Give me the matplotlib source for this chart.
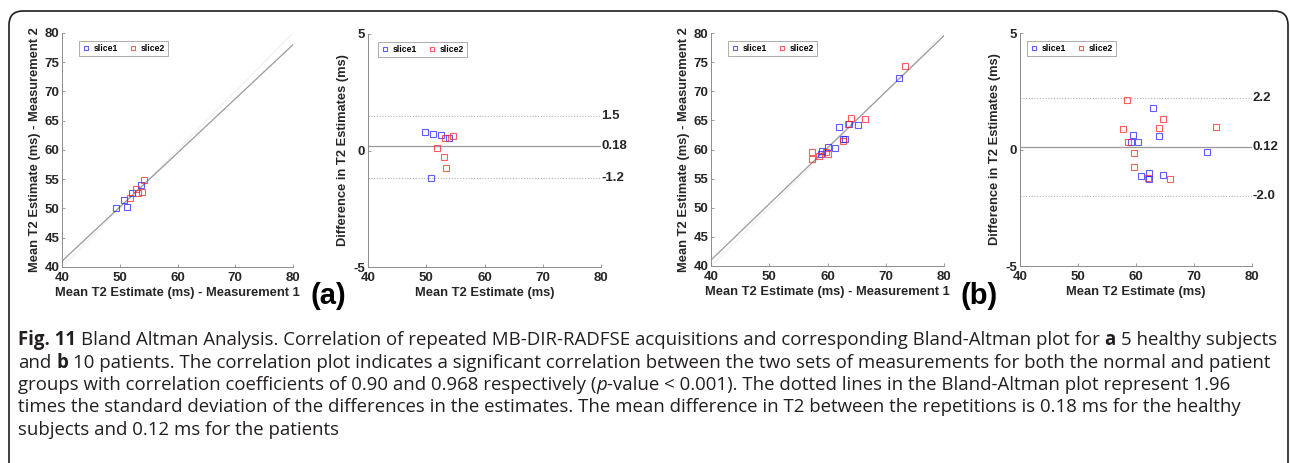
import numpy as np
import matplotlib
matplotlib.use("Agg")
import matplotlib.pyplot as plt
from matplotlib.patches import FancyBboxPatch
from matplotlib.transforms import Affine2D

# values
# (a) 5 healthy subjects - repeat measurements
a_s1_m1 = [49.3, 50.8, 51.3, 52.1, 53.6]
a_s1_m2 = [50.0, 51.4, 50.2, 52.7, 54.1]
a_s2_m1 = [51.7, 52.9, 53.1, 53.8, 54.2]
a_s2_m2 = [51.8, 53.4, 52.7, 52.9, 54.8]
a_fit = (0.925, 4.0)  # slope, intercept

# (a) Bland-Altman
a_s1_mean = [49.7, 51.2, 52.5, 53.9, 50.8]
a_s1_diff = [0.78, 0.70, 0.68, 0.52, -1.17]
a_s2_mean = [51.9, 53.2, 54.6, 53.0, 53.4]
a_s2_diff = [0.11, 0.54, 0.64, -0.29, -0.74]
a_limits = [1.5, 0.18, -1.2]
a_limit_labels = ["1.5", "0.18", "-1.2"]

# (b) 10 patients - repeat measurements
b_s1_m1 = [72.2, 62.0, 63.7, 65.3, 62.7, 63.0, 61.3, 60.1, 59.1, 58.9]
b_s1_m2 = [72.3, 63.8, 64.4, 64.2, 61.8, 61.8, 60.2, 60.4, 59.8, 59.2]
b_s2_m1 = [73.3, 64.1, 63.5, 66.5, 62.6, 57.4, 57.4, 58.5, 59.7, 60.1]
b_s2_m2 = [74.4, 65.4, 64.4, 65.2, 61.5, 59.5, 58.3, 58.8, 59.6, 59.3]
b_fit = (0.963, 2.5)

# (b) Bland-Altman
b_s1_mean = [62.9, 59.5, 64.0, 59.1, 60.3, 72.3, 60.8, 62.2, 62.3, 64.7]
b_s1_diff = [1.80, 0.64, 0.60, 0.32, 0.34, -0.12, -1.15, -0.99, -1.25, -1.09]
b_s2_mean = [58.4, 64.7, 64.0, 57.8, 73.8, 58.7, 59.6, 59.6, 62.0, 65.8]
b_s2_diff = [2.11, 1.31, 0.92, 0.88, 0.98, 0.32, -0.13, -0.75, -1.22, -1.28]
b_limits = [2.2, 0.12, -2.0]
b_limit_labels = ["2.2", "0.12", "-2.0"]

corr_ticks = [40, 45, 50, 55, 60, 65, 70, 75, 80]
x_ticks = [40, 50, 60, 70, 80]
ba_ticks = [-5, 0, 5]

caption_lines = [
    [("Fig. 11", "b"), (" Bland Altman Analysis. Correlation of repeated MB-DIR-RADFSE acquisitions and corresponding Bland-Altman plot for ", "n"),
     ("a", "b"), (" 5 healthy subjects", "n")],
    [("and ", "n"), ("b", "b"), (" 10 patients. The correlation plot indicates a significant correlation between the two sets of measurements for both the normal and patient", "n")],
    [("groups with correlation coefficients of 0.90 and 0.968 respectively (", "n"), ("p", "i"),
     ("-value < 0.001). The dotted lines in the Bland-Altman plot represent 1.96", "n")],
    [("times the standard deviation of the differences in the estimates. The mean difference in T2 between the repetitions is 0.18 ms for the healthy", "n")],
    [("subjects and 0.12 ms for the patients", "n")],
]

W, H = 1290, 463
plt.rcParams['font.family'] = ['Liberation Sans', 'DejaVu Sans']
plt.rcParams['axes.unicode_minus'] = False

fig = plt.figure(figsize=(W / 100, H / 100), dpi=100)

BLUE = (0.1, 0.1, 1.0)
RED = (1.0, 0.1, 0.1)
AXC = '#8c8c8c'
TXT = '#262626'
TICK_FS = 9.5
LABEL_FS = 9.3


def px_axes(left, top, right, bottom):
    return fig.add_axes([left / W, 1 - bottom / H, (right - left) / W, (bottom - top) / H])


def style(ax, yticks):
    ax.set_xlim(40, 80)
    ax.set_xticks(x_ticks)
    ax.set_ylim(yticks[0], yticks[-1])
    ax.set_yticks(yticks)
    for s in ['top', 'right']:
        ax.spines[s].set_visible(False)
    for s in ['left', 'bottom']:
        ax.spines[s].set_color(AXC)
        ax.spines[s].set_linewidth(0.7)
    ax.tick_params(direction='in', length=2.5, width=0.6, color=AXC,
                   labelsize=TICK_FS, labelcolor=TXT)
    ax.tick_params(axis='x', pad=3.5)
    ax.tick_params(axis='y', pad=2)
    for lab in ax.get_xticklabels() + ax.get_yticklabels():
        lab.set_fontweight('bold')


def scatter_pair(ax, x1, y1, x2, y2):
    ax.plot(x1, y1, 's', ms=5, mfc='none', mec=BLUE, mew=0.8, alpha=0.7, label='slice1')
    ax.plot(x2, y2, 's', ms=5, mfc='none', mec=RED, mew=0.8, alpha=0.7, label='slice2')


def legend(ax, dx, dy):
    bb = ax.get_window_extent()
    leg = ax.legend(loc='upper left', bbox_to_anchor=(dx / bb.width, 1 - dy / bb.height),
                    ncol=2, prop={'weight': 'bold', 'size': 6.2},
                    handlelength=0.9, handletextpad=0.5, columnspacing=1.2,
                    borderpad=0.35, borderaxespad=0, markerscale=0.7,
                    frameon=True, fancybox=False, framealpha=1)
    leg.get_frame().set_edgecolor('#a0a0a0')
    leg.get_frame().set_linewidth(0.6)


def corr_panel(ax, x1, y1, x2, y2, fit):
    xs = np.array([40, 80])
    ax.plot(xs, xs, color='#eeeeee', lw=0.7, zorder=1)
    ax.plot(xs, fit[0] * xs + fit[1], color='#9a9a9a', lw=0.9, zorder=1)
    scatter_pair(ax, x1, y1, x2, y2)
    style(ax, corr_ticks)
    ax.set_xlabel('Mean T2 Estimate (ms) - Measurement 1', fontsize=LABEL_FS, fontweight='bold', color=TXT, labelpad=2)
    ax.set_ylabel('Mean T2 Estimate (ms) - Measurement 2', fontsize=LABEL_FS, fontweight='bold', color=TXT, labelpad=2.5)


def ba_panel(ax, xm1, d1, xm2, d2, limits, labels):
    for i, (v, lab) in enumerate(zip(limits, labels)):
        if i == 1:
            ax.axhline(v, color='#9a9a9a', lw=0.9, zorder=1)
        else:
            ax.axhline(v, color='#b4b4b4', lw=0.8, ls=(0, (1, 1.5)), zorder=1)
        ax.text(80.1, v, lab, fontsize=TICK_FS, fontweight='bold', color=TXT, va='center', ha='left', clip_on=False)
    scatter_pair(ax, xm1, d1, xm2, d2)
    style(ax, ba_ticks)
    ax.set_xlabel('Mean T2 Estimate (ms)', fontsize=LABEL_FS, fontweight='bold', color=TXT, labelpad=2)
    ax.set_ylabel('Difference in T2 Estimates (ms)', fontsize=LABEL_FS, fontweight='bold', color=TXT, labelpad=3)


ax1 = px_axes(62, 33, 293, 267)
corr_panel(ax1, a_s1_m1, a_s1_m2, a_s2_m1, a_s2_m2, a_fit)
legend(ax1, 17, 8)

ax2 = px_axes(368, 34, 601, 267)
ba_panel(ax2, a_s1_mean, a_s1_diff, a_s2_mean, a_s2_diff, a_limits, a_limit_labels)
legend(ax2, 10, 8)

ax3 = px_axes(711, 33, 944, 266)
corr_panel(ax3, b_s1_m1, b_s1_m2, b_s2_m1, b_s2_m2, b_fit)
legend(ax3, 17, 8)

ax4 = px_axes(1020, 33, 1252, 266)
ba_panel(ax4, b_s1_mean, b_s1_diff, b_s2_mean, b_s2_diff, b_limits, b_limit_labels)
legend(ax4, 7, 8)

fig.text(311 / W, 1 - 296 / H, '(a)', fontsize=21, fontweight='bold', va='center', ha='left')
fig.text(961 / W, 1 - 296 / H, '(b)', fontsize=21, fontweight='bold', va='center', ha='left')

# rounded frame around the figure, bottom edge falls outside the image
pix = Affine2D().scale(1 / W, 1 / H) + fig.transFigure
frame = FancyBboxPatch((9, -300), 1279, H - 11 + 300, boxstyle='round,pad=0,rounding_size=14',
                       transform=pix, fill=False, ec='#1e1e1e', lw=1.2, clip_on=False)
fig.patches.append(frame)

# caption, drawn run by run so bold / italic words sit inline
renderer = fig.canvas.get_renderer()
cap_font = ['Open Sans', 'DejaVu Sans']
cap_size = 13.4
weights = {'n': ('normal', 'normal'), 'b': ('bold', 'normal'), 'i': ('normal', 'italic')}


def text_w(s, w='normal', st='normal'):
    t = fig.text(0, 0, s, fontsize=cap_size, family=cap_font, fontweight=w, fontstyle=st)
    wd = t.get_window_extent(renderer).width
    t.remove()
    return wd


space_w = text_w('a a') - text_w('aa')
base_y = 345
for i, line in enumerate(caption_lines):
    x = 18
    y = 1 - (base_y + i * 22.5) / H
    for s, k in line:
        w, st = weights[k]
        lead = len(s) - len(s.lstrip(' '))
        trail = len(s) - len(s.rstrip(' '))
        x += lead * space_w
        t = fig.text(x / W, y, s.strip(' '), fontsize=cap_size, family=cap_font,
                     fontweight=w, fontstyle=st, color='#231f20', va='baseline')
        x += t.get_window_extent(renderer).width + trail * space_w

fig.savefig('out.png', dpi=100)
